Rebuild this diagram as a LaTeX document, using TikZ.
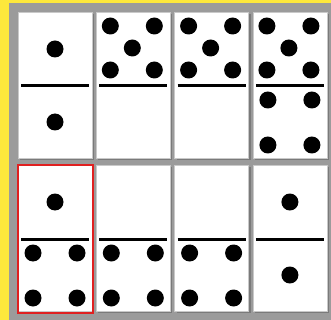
\documentclass[tikz,border=0pt]{standalone}
\usepackage{tikz}
\definecolor{boardyellow}{HTML}{FDE83C}
\definecolor{boardgrey}{HTML}{9B9B9B}
\definecolor{shadowgrey}{HTML}{7A7A7A}
\definecolor{edgegrey}{HTML}{C9C9C9}
\definecolor{markred}{HTML}{E02020}
\newcommand{\halfpips}[2]{%
  \ifcase#1\relax
  \or \fill (37,#2+37) circle (8.5);
  \or\or\or
    \foreach \px/\py in {15/15,59/15,15/60,59/60}{\fill (\px,#2+\py) circle (8.5);}
  \or
    \foreach \px/\py in {14/14,58/14,36/36,14/58,58/58}{\fill (\px,#2+\py) circle (8.5);}
  \fi}
\begin{document}
\begin{tikzpicture}[x=1pt,y=-1pt]
\fill[boardyellow] (0,0) rectangle (331,320);
\fill[boardgrey] (9,3) rectangle (331,320);
\foreach \col/\row/\nup/\ndown in {0/0/1/1,1/0/5/0,2/0/5/0,3/0/5/4,0/1/1/4,1/1/0/4,2/1/0/4,3/1/1/1}{
  \begin{scope}[shift={({18+78.3*\col},{12+153*\row})}]
    \fill[shadowgrey] (2,2) rectangle (76,148);
    \filldraw[fill=white, draw=edgegrey] (0,0) rectangle (74,146);
    \draw[line width=3pt] (3,74) -- (71,74);
    \halfpips{\nup}{0}
    \halfpips{\ndown}{73}
  \end{scope}
}
\draw[markred, line width=2pt] (18,165) rectangle (93,313);
\end{tikzpicture}
\end{document}
